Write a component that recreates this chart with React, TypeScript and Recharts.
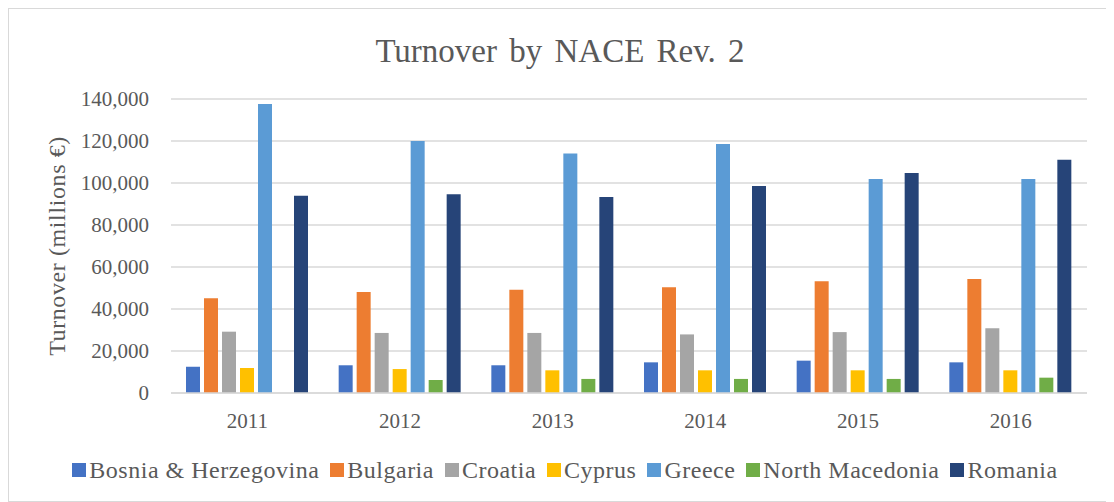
import React from "react";
import {
  BarChart,
  Bar,
  XAxis,
  YAxis,
  CartesianGrid,
  Legend,
} from "recharts";

// values, millions €
const years = ["2011", "2012", "2013", "2014", "2015", "2016"];
const bosnia = [12500, 13200, 13200, 14600, 15400, 14600];
const bulgaria = [45100, 48100, 49200, 50300, 53200, 54300];
const croatia = [29200, 28600, 28600, 27900, 29000, 30800];
const cyprus = [11900, 11400, 10800, 10800, 10800, 10800];
const greece = [137600, 120000, 114000, 118600, 101900, 101900];
const northMacedonia = [null, 6200, 6700, 6700, 6700, 7300];
const romania = [93900, 94600, 93300, 98600, 104800, 111100];
const yTicks = [0, 20000, 40000, 60000, 80000, 100000, 120000, 140000];

const series = [
  { key: "Bosnia & Herzegovina", values: bosnia, color: "#4472C4" },
  { key: "Bulgaria", values: bulgaria, color: "#ED7D31" },
  { key: "Croatia", values: croatia, color: "#A5A5A5" },
  { key: "Cyprus", values: cyprus, color: "#FFC000" },
  { key: "Greece", values: greece, color: "#5B9BD5" },
  { key: "North Macedonia", values: northMacedonia, color: "#70AD47" },
  { key: "Romania", values: romania, color: "#264478" },
];

const data = years.map((year, i) => {
  const row: Record<string, string | number | null> = { year };
  series.forEach((s) => {
    row[s.key] = s.values[i];
  });
  return row;
});

const FONT = '"Liberation Serif", "Times New Roman", serif';
const TEXT = "#595959";

const LegendBox = () => (
  <div
    style={{
      display: "flex",
      justifyContent: "center",
      alignItems: "center",
      height: 30,
      paddingLeft: 10,
      fontFamily: FONT,
      fontSize: 24,
      letterSpacing: 0.5,
      lineHeight: "30px",
      color: TEXT,
      whiteSpace: "nowrap",
    }}
  >
    {series.map((s, i) => (
      <span
        key={s.key}
        style={{
          display: "flex",
          alignItems: "center",
          marginRight: i === series.length - 1 ? 0 : 11,
        }}
      >
        <span
          style={{
            display: "inline-block",
            width: 14,
            height: 14,
            background: s.color,
            marginRight: 3,
          }}
        />
        {s.key}
      </span>
    ))}
  </div>
);

const YLabel = (props: any) => {
  const vb = props.viewBox || { x: 0, y: 0, height: 0 };
  const cx = vb.x + 48;
  const cy = vb.y + vb.height / 2;
  return (
    <text
      x={cx}
      y={cy}
      transform={`rotate(-90, ${cx}, ${cy})`}
      textAnchor="middle"
      dominantBaseline="central"
      fill={TEXT}
      style={{ fontFamily: FONT, fontSize: 24, letterSpacing: 0.6 }}
    >
      Turnover (millions €)
    </text>
  );
};

export default function App() {
  return (
    <div
      style={{
        position: "relative",
        width: 1102,
        height: 492,
        border: "1px solid #d9d9d9",
        background: "#fff",
      }}
    >
      <div
        style={{
          position: "absolute",
          top: 26,
          left: 0,
          width: 1102,
          textAlign: "center",
          fontFamily: FONT,
          fontSize: 33,
          lineHeight: "32px",
          wordSpacing: 4,
          color: TEXT,
        }}
      >
        Turnover by NACE Rev. 2
      </div>
      <BarChart
        width={1102}
        height={492}
        data={data}
        margin={{ top: 90, right: 24, bottom: 38, left: 0 }}
        barCategoryGap={15}
        barGap={4}
      >
        <CartesianGrid vertical={false} stroke="#d9d9d9" strokeWidth={1.5} />
        <XAxis
          dataKey="year"
          height={40}
          axisLine={{ stroke: "#d9d9d9", strokeWidth: 1.5 }}
          tickLine={false}
          tickSize={0}
          tickMargin={20}
          tick={{ fill: TEXT, fontFamily: FONT, fontSize: 21 }}
        />
        <YAxis
          width={162}
          domain={[0, 140000]}
          ticks={yTicks}
          axisLine={false}
          tickLine={false}
          tickSize={0}
          tickMargin={22}
          tickFormatter={(v: number) => v.toLocaleString("en-US")}
          tick={{ fill: TEXT, fontFamily: FONT, fontSize: 21 }}
          label={{ content: <YLabel /> }}
        />
        <Legend
          content={<LegendBox />}
          verticalAlign="bottom"
          wrapperStyle={{ top: 446, left: 0, width: 1102 }}
        />
        {series.map((s) => (
          <Bar key={s.key} dataKey={s.key} fill={s.color} isAnimationActive={false} />
        ))}
      </BarChart>
    </div>
  );
}
